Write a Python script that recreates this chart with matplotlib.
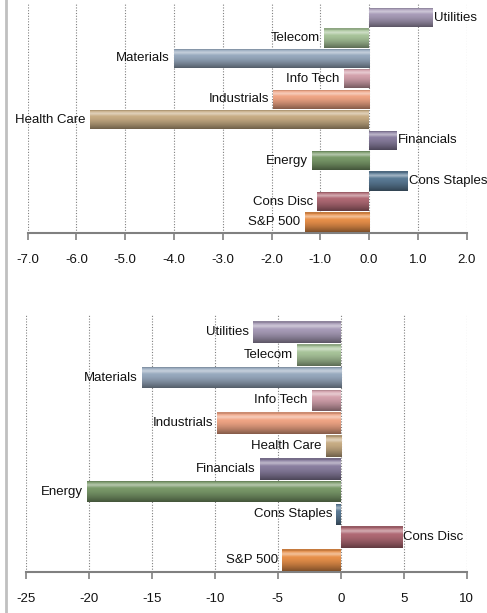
import numpy as np
import matplotlib
matplotlib.use('Agg')
import matplotlib.pyplot as plt
from matplotlib.colors import to_rgb
from matplotlib.lines import Line2D

plt.rcParams['font.family'] = ['Liberation Sans', 'DejaVu Sans']

# sectors, bottom to top
sectors = ['S&P 500', 'Cons Disc', 'Cons Staples', 'Energy', 'Financials',
           'Health Care', 'Industrials', 'Info Tech', 'Materials', 'Telecom',
           'Utilities']
colors = ['#e8904a', '#b06a75', '#5a7a95', '#7a9a6a', '#8a7fa0',
          '#c8ad85', '#f0a585', '#d4a2ad', '#98aabf', '#a8c49a', '#a89cb8']

top_values = [-1.32, -1.06, 0.78, -1.17, 0.56, -5.72, -1.97, -0.52, -4.0, -0.92, 1.30]
bottom_values = [-4.65, 4.85, -0.35, -20.15, -6.4, -1.2, -9.8, -2.3, -15.8, -3.45, -6.95]

top_ticks = [-7.0, -6.0, -5.0, -4.0, -3.0, -2.0, -1.0, 0.0, 1.0, 2.0]
bottom_ticks = [-25, -20, -15, -10, -5, 0, 5, 10]


def shade(color, n=64):
    # vertical bevel-like gradient, row 0 = top of bar
    base = np.array(to_rgb(color))
    t = np.linspace(0, 1, n)
    rows = []
    for v in t:
        if v < 0.08:
            c = base * 0.85
        elif v < 0.35:
            k = 1 - abs(v - 0.22) / 0.14
            c = base + (1 - base) * 0.45 * max(k, 0)
        else:
            c = base * (1 - 0.45 * ((v - 0.35) / 0.65) ** 1.5)
        rows.append(np.clip(c, 0, 1))
    return np.array(rows)[:, None, :]


def draw(ax, values, ticks, fmt, ylim, height):
    y = np.arange(len(sectors))
    bars = ax.barh(y, values, height=height, color=colors, edgecolor='none', zorder=2)
    for bar, col, val, name in zip(bars, colors, values, sectors):
        x0, y0 = bar.get_x(), bar.get_y()
        w, h = bar.get_width(), bar.get_height()
        im = ax.imshow(shade(col), extent=[x0, x0 + w, y0, y0 + h], origin='upper',
                       aspect='auto', zorder=3, interpolation='bilinear')
        im.set_clip_path(bar)
        if val < 0:
            ax.annotate(name, (val, y0 + h / 2), xytext=(-3, 0), textcoords='offset points',
                        ha='right', va='center', fontsize=9.5, color='#111111', zorder=4)
        else:
            ax.annotate(name, (val, y0 + h / 2), xytext=(1, 0), textcoords='offset points',
                        ha='left', va='center', fontsize=9.5, color='#111111', zorder=4)
    ax.set_xlim(ticks[0], ticks[-1])
    ax.set_ylim(*ylim)
    ax.set_xticks(ticks)
    ax.set_xticklabels([fmt.format(t) for t in ticks], fontsize=9.5)
    ax.set_yticks([])
    for s in ['top', 'right', 'left']:
        ax.spines[s].set_visible(False)
    ax.spines['bottom'].set_color('#808080')
    ax.spines['bottom'].set_linewidth(1.5)
    ax.tick_params(axis='x', direction='out', length=5, width=1.2, color='#808080',
                   pad=10, labelcolor='#111111')
    ax.grid(axis='x', linestyle=(0, (1, 1.5)), color='#808080', linewidth=0.8, zorder=0)
    ax.set_axisbelow(True)


fig = plt.figure(figsize=(4.87, 6.13), dpi=100)
ax1 = fig.add_axes([0.0569, 0.6199, 0.9014, 0.3752])
ax2 = fig.add_axes([0.0528, 0.0674, 0.9055, 0.4204])

draw(ax1, top_values, top_ticks, '{:.1f}', (-0.54, 10.71), 0.94)
draw(ax2, bottom_values, bottom_ticks, '{:.0f}', (-0.51, 10.79), 0.95)

fig.add_artist(Line2D([6 / 487, 6 / 487], [0, 1], color='#c0c0c0', linewidth=2))

fig.savefig('out.png', dpi=100)
